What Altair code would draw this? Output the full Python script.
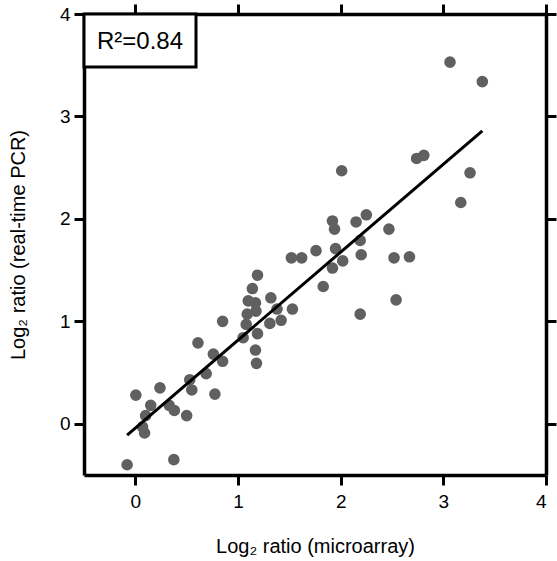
import altair as alt
import pandas as pd

micro = [-0.08, 0.375, 0.005, 0.24, 0.15, 0.10, 0.07, 0.09, 0.33, 0.38,
         0.50, 0.53, 0.55, 0.69, 0.775, 0.61, 0.76, 0.85, 0.85, 1.05,
         1.17, 1.18, 1.19, 1.14, 1.10, 1.17, 1.09, 1.175, 1.08, 1.19,
         1.32, 1.38, 1.31, 1.42, 1.53, 1.52, 1.62, 1.76, 1.83, 2.01,
         1.92, 1.94, 2.15, 2.25, 1.95, 2.19, 2.47, 2.02, 1.92, 2.20,
         2.52, 2.67, 2.54, 2.19, 2.74, 2.81, 3.065, 3.38, 3.26, 3.17]
pcr = [-0.40, -0.35, 0.28, 0.35, 0.18, 0.08, -0.03, -0.09, 0.18, 0.13,
       0.08, 0.43, 0.33, 0.49, 0.29, 0.79, 0.68, 0.61, 1.00, 0.84,
       0.72, 0.59, 1.45, 1.32, 1.20, 1.18, 1.07, 1.10, 0.97, 0.88,
       1.23, 1.12, 0.98, 1.01, 1.12, 1.62, 1.62, 1.69, 1.34, 2.47,
       1.98, 1.90, 1.97, 2.04, 1.71, 1.79, 1.90, 1.59, 1.52, 1.65,
       1.62, 1.63, 1.21, 1.07, 2.59, 2.62, 3.53, 3.34, 2.45, 2.16]
fit_x = [-0.08, 3.38]
fit_y = [-0.11, 2.86]
r2_label = ["R²=0.84"]
ticks = [0, 1, 2, 3, 4]

pts = pd.DataFrame({"micro": micro, "pcr": pcr})
fit = pd.DataFrame({"micro": fit_x, "pcr": fit_y})
lab = pd.DataFrame({"label": r2_label})

FONT = "Liberation Sans"
xs = alt.Scale(domain=[-0.5, 4], nice=False, zero=False)
ys = alt.Scale(domain=[-0.5, 4], nice=False, zero=False)

common = dict(grid=False, domainColor="black", domainWidth=3.5,
              tickColor="black", tickWidth=3, tickSize=10,
              labelFont=FONT, labelFontSize=19, labelColor="black",
              titleFont=FONT, titleFontSize=20, titleColor="black",
              titleFontWeight="normal", values=ticks)

points = alt.Chart(pts).mark_circle(size=135, color="#606060", opacity=1).encode(
    x=alt.X("micro:Q", scale=xs,
            axis=alt.Axis(orient="bottom", title="Log₂ ratio (microarray)",
                          labelPadding=7, titlePadding=25, **common)),
    y=alt.Y("pcr:Q", scale=ys,
            axis=alt.Axis(orient="left", title="Log₂ ratio (real-time PCR)",
                          labelPadding=4, titlePadding=31, **common)),
)

line = alt.Chart(fit).mark_line(color="black", strokeWidth=3).encode(
    x=alt.X("micro:Q", scale=xs,
            axis=alt.Axis(orient="top", labels=False, title="", **common)),
    y=alt.Y("pcr:Q", scale=ys,
            axis=alt.Axis(orient="right", labels=False, title="", **common)),
)

box = alt.Chart(lab).mark_rect(fill="white", stroke="black", strokeWidth=3).encode(
    x=alt.value(0), x2=alt.value(112), y=alt.value(0), y2=alt.value(53)
)

txt = alt.Chart(lab).mark_text(font=FONT, fontSize=24, color="black",
                               baseline="middle", align="center").encode(
    x=alt.value(56), y=alt.value(28), text="label:N"
)

chart = alt.layer(points, line, box, txt).resolve_axis(
    x="independent", y="independent"
).properties(
    width=462, height=461, autosize="none",
    padding={"left": 84, "top": 14, "right": 11, "bottom": 86},
    background="white",
).configure_view(stroke=None)

chart.save("out.html", embed_options={"renderer": "svg", "actions": False})
